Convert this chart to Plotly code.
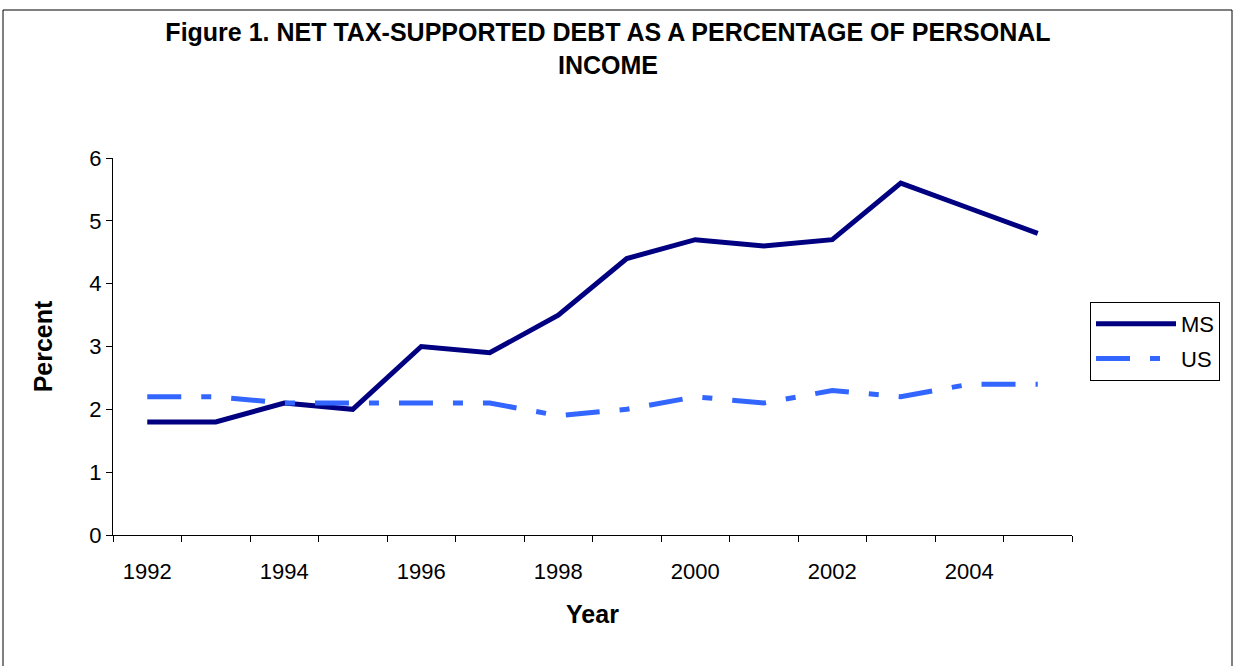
import plotly.graph_objects as go

years = list(range(1992, 2006))
ms_values = [1.8, 1.8, 2.1, 2.0, 3.0, 2.9, 3.5, 4.4, 4.7, 4.6, 4.7, 5.6, 5.2, 4.8]
us_values = [2.2, 2.2, 2.1, 2.1, 2.1, 2.1, 1.9, 2.0, 2.2, 2.1, 2.3, 2.2, 2.4, 2.4]
label_years = [1992, 1994, 1996, 1998, 2000, 2002, 2004]
y_ticks = [0, 1, 2, 3, 4, 5, 6]

FONT = "Liberation Sans, Arial, sans-serif"

fig = go.Figure()
fig.add_trace(go.Scatter(x=years, y=ms_values, mode="lines", name="MS",
                         legendgroup="a",
                         line=dict(color="#000080", width=5)))
fig.add_trace(go.Scatter(x=years, y=us_values, mode="lines", name="US",
                         legendgroup="b",
                         line=dict(color="#3366FF", width=5, dash="34px,20px,10px,20px")))

W, H = 1235, 666
L, R, T, B = 113, 1072, 158, 535
pw, ph = R - L, B - T

def px(x):
    return (x - L) / pw

def py(y):
    return (B - y) / ph

boundaries = [y - 0.5 for y in years] + [years[-1] + 0.5]

fig.update_layout(
    width=W, height=H,
    margin=dict(l=L, r=W - R, t=T, b=H - B, autoexpand=False),
    paper_bgcolor="white", plot_bgcolor="white",
    font=dict(family=FONT, size=22, color="black"),
    title=dict(text="<b>Figure 1. NET TAX-SUPPORTED DEBT AS A PERCENTAGE OF PERSONAL<br>INCOME</b>",
               xref="container", yref="container",
               x=608 / W, xanchor="center", y=1 - 41 / H, yanchor="top",
               font=dict(size=25)),
    xaxis=dict(range=[1991.5, 2005.5], tickvals=label_years,
               ticktext=[str(v) for v in label_years],
               ticks="", showgrid=False, zeroline=False,
               showline=True, linecolor="black", linewidth=1,
               minor=dict(tickvals=boundaries, ticks="outside", ticklen=6,
                          tickcolor="black", tickwidth=1, showgrid=False),
               tickfont=dict(size=22), ticklabelstandoff=17,
               title=dict(text="<b>Year</b>", font=dict(size=25), standoff=22)),
    yaxis=dict(range=[0, 6], tickvals=y_ticks, ticks="outside", ticklen=6,
               tickcolor="black", showgrid=False, zeroline=False,
               showline=True, linecolor="black", linewidth=1,
               tickfont=dict(size=22),
               title=dict(text="<b>Percent</b>", font=dict(size=25), standoff=29)),
    legend=dict(x=px(1090), y=py(302), xanchor="left", yanchor="top",
                bordercolor="black", borderwidth=1, bgcolor="white",
                font=dict(size=22), itemwidth=80, tracegroupgap=3,
                traceorder="grouped"),
    shapes=[dict(type="rect", xref="paper", yref="paper",
                 x0=px(3), x1=px(1232), y0=py(670), y1=py(10),
                 line=dict(color="black", width=1), layer="below")],
)

fig.write_html("out.html", config={"displayModeBar": False},
               post_script="document.body.style.margin='0px';")
